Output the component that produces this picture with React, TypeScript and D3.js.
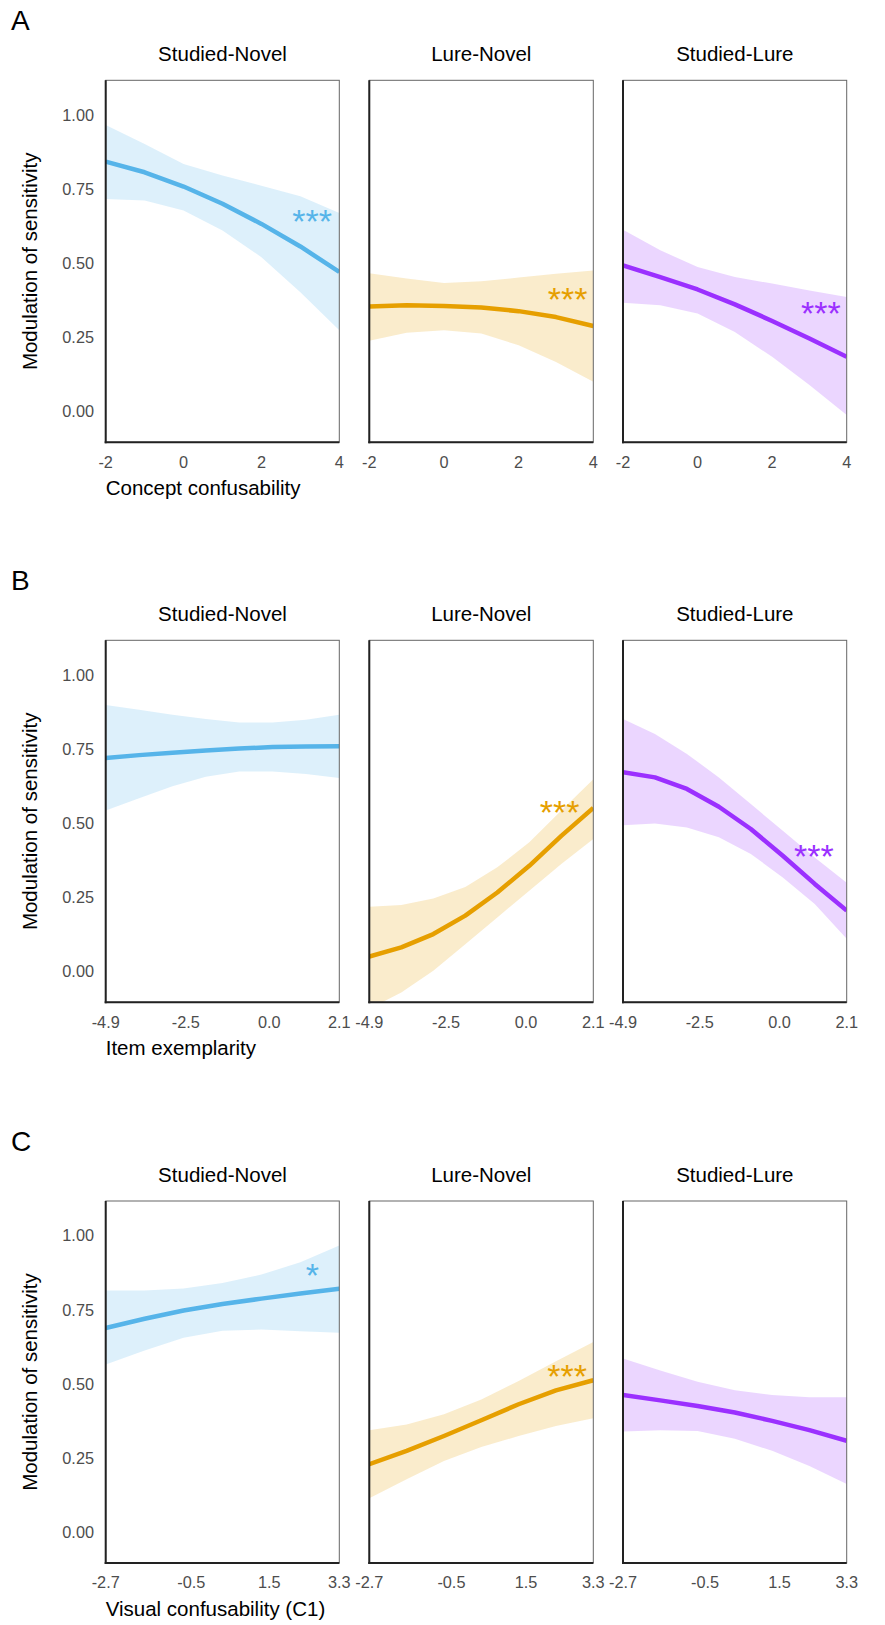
import React from 'react';
import * as d3 from 'd3';

// panel labels / styling
const contrasts = ['Studied-Novel', 'Lure-Novel', 'Studied-Lure'];
const colors = ['#56B4E9', '#E69F00', '#9B30FF'];
const rowLetters = ['A', 'B', 'C'];
const xTitles = ['Concept confusability', 'Item exemplarity', 'Visual confusability (C1)'];

// x grid of the predictions
const xA = [-2, -1, 0, 1, 2, 3, 4];
const xB = [-4.9, -3.9, -2.9, -1.9, -0.9, 0.1, 1.1, 2.1];
const xC = [-2.7, -1.7, -0.7, 0.3, 1.3, 2.3, 3.3];

// tick labels
const xTicksA = ['-2', '0', '2', '4'];
const xTicksB = ['-4.9', '-2.5', '0.0', '2.1'];
const xTicksC = ['-2.7', '-0.5', '1.5', '3.3'];
const yTicks = ['0.00', '0.25', '0.50', '0.75', '1.00'];

// A: concept confusability
const fitA_SN = [0.843, 0.807, 0.759, 0.701, 0.633, 0.557, 0.471];
const hiA_SN = [0.966, 0.902, 0.835, 0.796, 0.762, 0.726, 0.670];
const loA_SN = [0.717, 0.712, 0.678, 0.611, 0.521, 0.403, 0.275];
const fitA_LN = [0.355, 0.359, 0.356, 0.351, 0.339, 0.319, 0.289];
const hiA_LN = [0.467, 0.449, 0.434, 0.440, 0.452, 0.465, 0.476];
const loA_LN = [0.239, 0.266, 0.275, 0.264, 0.224, 0.168, 0.101];
const fitA_SL = [0.493, 0.454, 0.412, 0.362, 0.306, 0.247, 0.185];
const hiA_SL = [0.613, 0.544, 0.488, 0.454, 0.432, 0.409, 0.387];
const loA_SL = [0.367, 0.359, 0.331, 0.269, 0.185, 0.090, -0.011];

// B: item exemplarity
const fitB_SN = [0.720, 0.730, 0.738, 0.746, 0.752, 0.757, 0.759, 0.760];
const hiB_SN = [0.899, 0.883, 0.866, 0.852, 0.840, 0.840, 0.849, 0.866];
const loB_SN = [0.543, 0.585, 0.625, 0.657, 0.675, 0.675, 0.666, 0.653];
const fitB_LN = [0.051, 0.082, 0.127, 0.189, 0.267, 0.357, 0.458, 0.552];
const hiB_LN = [0.219, 0.225, 0.247, 0.286, 0.352, 0.436, 0.543, 0.649];
const loB_LN = [-0.125, -0.070, 0.003, 0.093, 0.183, 0.273, 0.363, 0.447];
const fitB_SL = [0.672, 0.655, 0.616, 0.556, 0.481, 0.391, 0.296, 0.206];
const hiB_SL = [0.852, 0.801, 0.734, 0.655, 0.565, 0.475, 0.385, 0.300];
const loB_SL = [0.494, 0.500, 0.486, 0.453, 0.397, 0.318, 0.228, 0.111];

// C: visual confusability
const fitC_SN = [0.689, 0.720, 0.748, 0.770, 0.788, 0.805, 0.821];
const hiC_SN = [0.815, 0.815, 0.822, 0.841, 0.869, 0.911, 0.967];
const loC_SN = [0.566, 0.613, 0.656, 0.680, 0.684, 0.678, 0.673];
const fitC_LN = [0.230, 0.275, 0.325, 0.378, 0.432, 0.479, 0.513];
const hiC_LN = [0.344, 0.364, 0.398, 0.448, 0.510, 0.577, 0.642];
const loC_LN = [0.115, 0.179, 0.241, 0.288, 0.325, 0.359, 0.385];
const fitC_SL = [0.463, 0.445, 0.426, 0.404, 0.376, 0.345, 0.309];
const hiC_SL = [0.586, 0.546, 0.508, 0.479, 0.463, 0.456, 0.456];
const loC_SL = [0.340, 0.344, 0.342, 0.316, 0.275, 0.224, 0.163];

// significance stars: [panel, label, x, y]
const starsA: [number, string, number, number][] = [[0, '***', 3.3, 0.669], [1, '***', 3.31, 0.407], [2, '***', 3.31, 0.359]];
const starsB: [number, string, number, number][] = [[1, '***', 1.05, 0.565], [2, '***', 1.07, 0.414]];
const starsC: [number, string, number, number][] = [[0, '*', 2.61, 0.894], [1, '***', 2.6, 0.553]];

const rows = [
  { x: xA, ticks: xTicksA, fit: [fitA_SN, fitA_LN, fitA_SL], hi: [hiA_SN, hiA_LN, hiA_SL], lo: [loA_SN, loA_LN, loA_SL], stars: starsA },
  { x: xB, ticks: xTicksB, fit: [fitB_SN, fitB_LN, fitB_SL], hi: [hiB_SN, hiB_LN, hiB_SL], lo: [loB_SN, loB_LN, loB_SL], stars: starsB },
  { x: xC, ticks: xTicksC, fit: [fitC_SN, fitC_LN, fitC_SL], hi: [hiC_SN, hiC_LN, hiC_SL], lo: [loC_SN, loC_LN, loC_SL], stars: starsC },
];

const W = 885;
const H = 1625;
const panelLeft = [105.7, 369.3, 623];
const panelRight = [339.3, 593.3, 846.7];
const rowTop = [80.3, 640.3, 1201];
const panelH = 362;
const font = '"Liberation Sans", Arial, sans-serif';
const starSize = 34;

const App = () => {
  return (
    <>
      <style>{'body{margin:0}'}</style>
      <svg width={W} height={H} style={{ display: 'block', fontFamily: font }}>
        <rect width={W} height={H} fill="#fff" />
        {rows.map((row, r) => {
          const top = rowTop[r];
          const bottom = top + panelH;
          const y = d3.scaleLinear().domain([-0.103, 1.117]).range([bottom, top]);
          const xExt = d3.extent(row.x) as [number, number];
          return (
            <g key={r}>
              <text x={11} y={top - 50.5} fontSize={28} fill="#000">{rowLetters[r]}</text>
              <text transform={`translate(37.4,${(top + bottom) / 2}) rotate(-90)`} textAnchor="middle" fontSize={20.5} fill="#000">
                Modulation of sensitivity
              </text>
              {yTicks.map(t => (
                <text key={t} x={94} y={y(+t)} dy="0.35em" textAnchor="end" fontSize={16.3} fill="#4d4d4d">{t}</text>
              ))}
              <text x={panelLeft[0]} y={bottom + 53} fontSize={20.5} fill="#000">{xTitles[r]}</text>
              {contrasts.map((c, p) => {
                const x = d3.scaleLinear().domain(xExt).range([panelLeft[p], panelRight[p]]);
                const pts = row.x.map((xv, i) => ({ x: xv, fit: row.fit[p][i], lo: row.lo[p][i], hi: row.hi[p][i] }));
                const area = d3.area<any>().x(d => x(d.x)).y0(d => y(d.lo)).y1(d => y(d.hi));
                const line = d3.line<any>().x(d => x(d.x)).y(d => y(d.fit));
                const clipId = `clip-${r}-${p}`;
                const left = panelLeft[p];
                const right = panelRight[p];
                return (
                  <g key={c}>
                    <defs>
                      <clipPath id={clipId}>
                        <rect x={left} y={top} width={right - left} height={panelH} />
                      </clipPath>
                    </defs>
                    <text x={(left + right) / 2} y={top - 19} textAnchor="middle" fontSize={20.5} fill="#000">{c}</text>
                    <g clipPath={`url(#${clipId})`}>
                      <path d={area(pts) || ''} fill={colors[p]} fillOpacity={0.2} />
                      <path d={line(pts) || ''} fill="none" stroke={colors[p]} strokeWidth={4.5} strokeLinejoin="round" />
                    </g>
                    {row.stars.filter(s => s[0] === p).map((s, i) => (
                      <text key={i} x={x(s[2])} y={y(s[3]) + starSize * 0.575} textAnchor="middle" fontSize={starSize} fill={colors[p]}>{s[1]}</text>
                    ))}
                    {/* frame: thin top/right, heavier axis lines left/bottom */}
                    <rect x={left} y={top} width={right - left} height={panelH} fill="none" stroke="#666" strokeWidth={1} />
                    <line x1={left} x2={left} y1={top} y2={bottom + 1} stroke="#222" strokeWidth={2} />
                    <line x1={left - 1} x2={right} y1={bottom} y2={bottom} stroke="#222" strokeWidth={2} />
                    {row.ticks.map(t => (
                      <text key={t} x={x(+t)} y={bottom + 19.5} dy="0.35em" textAnchor="middle" fontSize={16.3} fill="#4d4d4d">{t}</text>
                    ))}
                  </g>
                );
              })}
            </g>
          );
        })}
      </svg>
    </>
  );
};

export default App;
